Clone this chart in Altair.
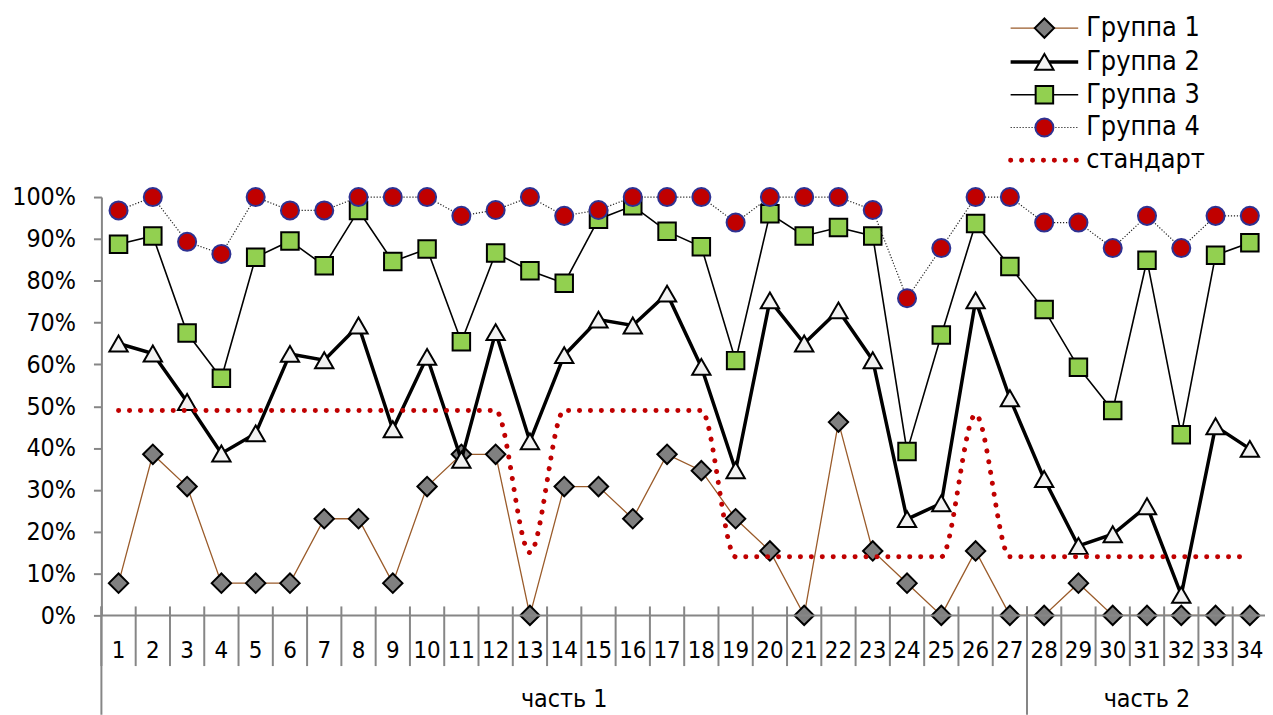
import altair as alt
import pandas as pd

# ---------------- data ----------------
categories = list(range(1, 35))
parts = ["часть 1"] * 27 + ["часть 2"] * 7
group1 = [7.7, 38.5, 30.8, 7.7, 7.7, 7.7, 23.1, 23.1, 7.7, 30.8,
          38.5, 38.5, 0, 30.8, 30.8, 23.1, 38.5, 34.6, 23.1, 15.4,
          0, 46.2, 15.4, 7.7, 0, 15.4, 0, 0, 7.7, 0,
          0, 0, 0, 0]
group2 = [65, 62.6, 51, 38.7, 43.5, 62.5, 61, 69.3, 44.5, 61.8,
          37.2, 67.7, 41.6, 62.2, 70.7, 69.3, 76.9, 59.4, 34.7, 75.3,
          65, 72.9, 61, 23, 26.8, 75.3, 51.9, 32.6, 16.6, 19.4,
          26.1, 4.9, 45.2, 39.8]
group3 = [88.7, 90.7, 67.5, 56.7, 85.6, 89.5, 83.6, 96.8, 84.6, 87.6,
          65.4, 86.6, 82.4, 79.4, 94.7, 97.9, 91.8, 88.1, 60.9, 96.0,
          90.7, 92.7, 90.7, 39.2, 67.0, 93.7, 83.4, 73.1, 59.3, 49.0,
          84.9, 43.2, 86.1, 89.1]
group4 = [96.8, 100, 89.3, 86.4, 100, 96.8, 96.8, 100, 100, 100,
          95.5, 96.9, 100, 95.5, 96.9, 100, 100, 100, 93.9, 100,
          100, 100, 96.9, 75.8, 87.8, 100, 100, 93.9, 93.9, 87.8,
          95.5, 87.8, 95.5, 95.5]
standard = [49] * 12 + [15] + [49] * 5 + [14] * 7 + [48] + [14] * 8
legend_labels = ["Группа 1", "Группа 2", "Группа 3", "Группа 4", "стандарт"]
y_ticks = [i / 10 for i in range(11)]

# ---------------- style ----------------
FONT = "DejaVu Sans Condensed, DejaVu Sans, sans-serif"
GRAY = "#868686"
W, H = 1171, 421
BAND = 34.5
X_MAX = 0.5 + W / BAND

df = pd.DataFrame({
    "cat": categories,
    "part": parts,
    "g1": [v / 100 for v in group1],
    "g2": [v / 100 for v in group2],
    "g3": [v / 100 for v in group3],
    "g4": [v / 100 for v in group4],
    "std": [v / 100 for v in standard],
})

xs = alt.Scale(domain=[0.5, X_MAX], nice=False, zero=False)
ys = alt.Scale(domain=[0, 1], nice=False)
yaxis = alt.Axis(values=y_ticks, format=".0%", labelFont=FONT, labelFontSize=25,
                 labelColor="black", domainColor=GRAY, domainWidth=2,
                 tickColor=GRAY, tickWidth=2, tickSize=8, labelPadding=18,
                 grid=False, title=None, labelOverlap=False)


def X(field="cat"):
    return alt.X(f"{field}:Q", scale=xs, axis=None)


def Y(field):
    return alt.Y(f"{field}:Q", scale=ys, axis=yaxis)


base = alt.Chart(df)

styles = {
    "g1": dict(line=dict(color="#9A5B2A", strokeWidth=1.3),
               point=dict(shape="diamond", size=380, fill="#808080", stroke="black", strokeWidth=2)),
    "g2": dict(line=dict(color="black", strokeWidth=3.5),
               point=dict(shape="triangle-up", size=340, fill="#F2F2F2", stroke="black", strokeWidth=2)),
    "g3": dict(line=dict(color="black", strokeWidth=1.6),
               point=dict(shape="square", size=310, fill="#92D050", stroke="black", strokeWidth=2)),
    "g4": dict(line=dict(color="#222222", strokeWidth=1.2, strokeDash=[1.2, 1.8]),
               point=dict(shape="circle", size=330, fill="#C00000", stroke="#2E3192", strokeWidth=2)),
}
std_line = dict(color="#C00000", strokeWidth=5, strokeCap="round", strokeDash=[0.1, 10.9])

layers = []
for key in ["g1", "g2", "g3", "g4"]:
    st = styles[key]
    layers.append(base.mark_line(**st["line"]).encode(x=X(), y=Y(key)))
    layers.append(base.mark_point(filled=True, fillOpacity=1, strokeOpacity=1, opacity=1,
                                  **st["point"]).encode(x=X(), y=Y(key)))
layers.append(base.mark_line(interpolate="monotone", **std_line).encode(x=X(), y=Y("std")))

# ---------------- custom category axis ----------------
axis_df = pd.DataFrame({"x0": [0.5], "x1": [X_MAX], "y": [0.0]})
layers.append(alt.Chart(axis_df).mark_rule(color=GRAY, strokeWidth=2).encode(
    x=alt.X("x0:Q", scale=xs, axis=None), x2="x1:Q", y=alt.Y("y:Q", scale=ys, axis=yaxis)))

bounds_df = pd.DataFrame({"b": [c - 0.5 for c in categories]})
layers.append(alt.Chart(bounds_df).mark_rule(color=GRAY, strokeWidth=2).encode(
    x=X("b"), y=alt.value(H - 9), y2=alt.value(H + 51)))

labels = base.mark_text(font=FONT, fontSize=24, color="black", align="center",
                        baseline="middle").encode(x=X(), y=alt.value(H + 36),
                                                  text=alt.Text("cat:Q", format="d"))
layers.append(labels)

parts_df = df.groupby("part", sort=False)["cat"].agg(["min", "max"]).reset_index()
parts_df["center"] = (parts_df["min"] + parts_df["max"]) / 2
parts_df["start"] = parts_df["min"] - 0.5
layers.append(alt.Chart(parts_df).mark_rule(color=GRAY, strokeWidth=2).encode(
    x=X("start"), y=alt.value(H - 9), y2=alt.value(H + 100)))
layers.append(alt.Chart(parts_df).mark_text(font=FONT, fontSize=25, color="black", align="center",
                                            baseline="middle").encode(
    x=X("center"), y=alt.value(H + 84), text="part:N"))

# ---------------- legend ----------------
LEG_Y = [-170, -136, -103, -70, -37]
LX0, LX1, LXM, LXT = 915, 983, 949, 991
leg_line_styles = [styles["g1"]["line"], styles["g2"]["line"], styles["g3"]["line"],
                   styles["g4"]["line"], std_line]
for i, lab in enumerate(legend_labels):
    d = alt.Chart(pd.DataFrame({"label": [lab]}))
    layers.append(d.mark_rule(**leg_line_styles[i]).encode(
        x=alt.value(LX0), x2=alt.value(LX1), y=alt.value(LEG_Y[i])))
    if i < 4:
        st = styles[["g1", "g2", "g3", "g4"][i]]["point"]
        layers.append(d.mark_point(filled=True, fillOpacity=1, strokeOpacity=1, opacity=1, **st).encode(
            x=alt.value(LXM), y=alt.value(LEG_Y[i])))
    layers.append(d.mark_text(font=FONT, fontSize=27, color="black", align="left",
                              baseline="middle").encode(
        x=alt.value(LXT), y=alt.value(LEG_Y[i]), text="label:N"))

chart = alt.layer(*layers).properties(
    width=W, height=H,
    autosize=alt.AutoSizeParams(type="none"),
    padding={"left": 94, "top": 188, "right": 0, "bottom": 98},
).configure_view(strokeWidth=0)

chart.save("out.html", embed_options={"renderer": "svg", "actions": False})
